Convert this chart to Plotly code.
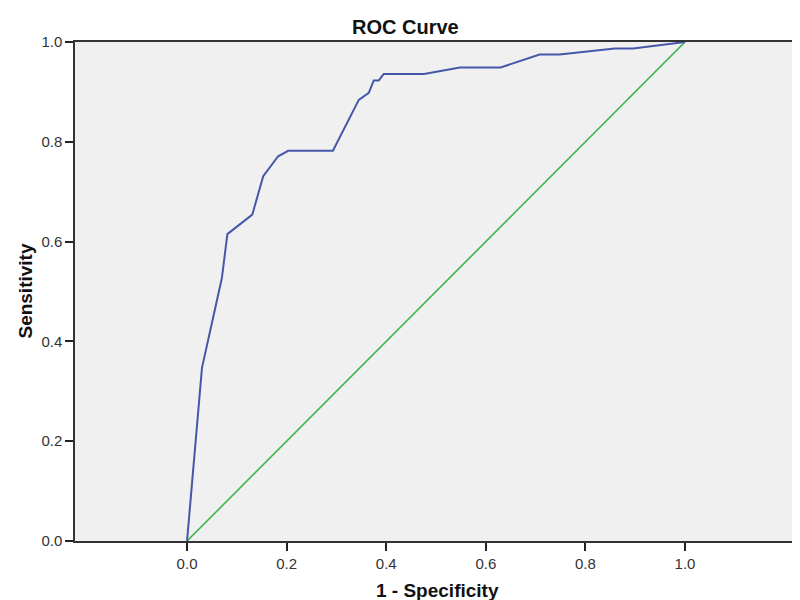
import plotly.graph_objects as go

fpr = [0.0, 0.030, 0.070, 0.081, 0.131, 0.153, 0.183, 0.203, 0.293, 0.345, 0.365,
       0.375, 0.385, 0.395, 0.476, 0.548, 0.630, 0.708, 0.748, 0.859, 0.896, 1.0]
tpr = [0.0, 0.347, 0.527, 0.615, 0.654, 0.731, 0.771, 0.782, 0.782, 0.884, 0.898,
       0.923, 0.923, 0.936, 0.936, 0.949, 0.949, 0.975, 0.975, 0.987, 0.987, 1.0]
ref_x = [0.0, 1.0]
ref_y = [0.0, 1.0]
tick_vals = [0.0, 0.2, 0.4, 0.6, 0.8, 1.0]
tick_text = ["0.0", "0.2", "0.4", "0.6", "0.8", "1.0"]

font_fam = "Liberation Sans Narrow, Arial Narrow, Liberation Sans, Arial, sans-serif"

fig = go.Figure()
fig.add_trace(go.Scatter(x=ref_x, y=ref_y, mode="lines",
                         line=dict(color="#3cb64a", width=1.6), showlegend=False))
fig.add_trace(go.Scatter(x=fpr, y=tpr, mode="lines",
                         line=dict(color="#4558a8", width=2), showlegend=False))

fig.update_layout(
    width=800, height=600,
    margin=dict(l=67, r=9, t=34, b=67, autoexpand=False),
    paper_bgcolor="white", plot_bgcolor="#f0f0f0",
    font=dict(family=font_fam, color="#222"),
    annotations=[
        dict(text="<b>ROC Curve</b>", xref="paper", yref="paper", x=0.456, y=1.030,
             xanchor="center", yanchor="middle", showarrow=False,
             font=dict(family=font_fam, size=20, color="#111")),
        dict(text="<b>1 - Specificity</b>", xref="paper", yref="paper", x=0.5, y=-0.100,
             xanchor="center", yanchor="middle", showarrow=False,
             font=dict(family=font_fam, size=19, color="#111")),
        dict(text="<b>Sensitivity</b>", xref="paper", yref="paper", x=-0.069, y=0.5,
             xanchor="center", yanchor="middle", showarrow=False, textangle=-90,
             font=dict(family=font_fam, size=19, color="#111")),
    ],
)
fig.update_xaxes(range=[-0.225, 1.229], tickvals=tick_vals, ticktext=tick_text,
                 showgrid=False, zeroline=False, showline=True, mirror=True, automargin=False,
                 linecolor="#333", linewidth=1.5, ticks="outside", ticklen=8,
                 tickcolor="#222", tickwidth=1.5, tickfont=dict(size=15, color="#333"))
fig.update_yaxes(range=[0, 1], tickvals=tick_vals, ticktext=tick_text,
                 showgrid=False, zeroline=False, showline=True, mirror=True, automargin=False,
                 linecolor="#333", linewidth=1.5, ticks="outside", ticklen=8,
                 tickcolor="#222", tickwidth=1.5, tickfont=dict(size=15, color="#333"))

fig.write_html("out.html")
